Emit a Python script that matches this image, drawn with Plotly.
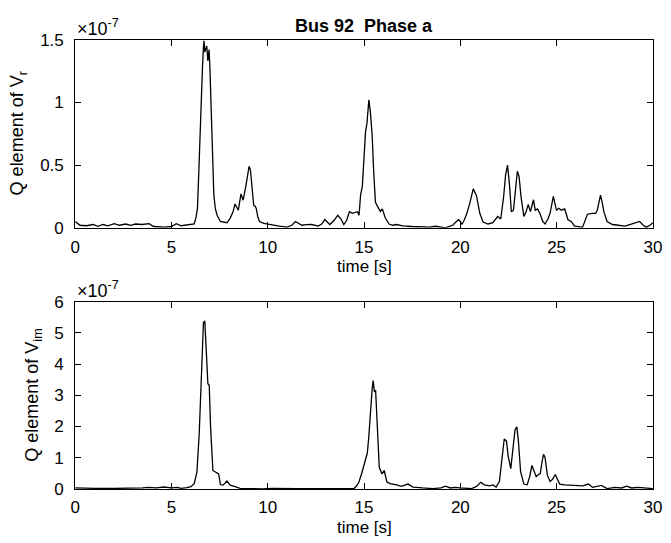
import plotly.graph_objects as go

# ---------------- data (values in units of 1e-7) ----------------
t_vr = [0, 0.08, 0.25, 0.59, 0.93, 1.18, 1.44, 1.69, 2.03, 2.29, 2.63, 2.88, 3.13, 3.47, 3.84, 4.07,
        4.66, 5.0, 5.25, 5.5, 5.76, 6.1, 6.18, 6.27, 6.35, 6.42, 6.49, 6.55, 6.61, 6.66, 6.69, 6.73,
        6.78, 6.83, 6.89, 6.95, 6.99, 7.03, 7.08, 7.12, 7.2, 7.28, 7.37, 7.54, 7.88, 8.05, 8.2, 8.3,
        8.38, 8.47, 8.61, 8.72, 8.86, 8.95, 9.03, 9.1, 9.15, 9.22, 9.27, 9.35, 9.4, 9.48, 9.57, 9.8,
        10.08, 10.6, 11.0, 11.25, 11.44, 11.6, 11.77, 12.0, 12.28, 12.62, 12.8, 12.96, 13.1, 13.22,
        13.45, 13.64, 13.8, 13.95, 14.1, 14.24, 14.4, 14.55, 14.66, 14.74, 14.82, 14.91, 15.0, 15.08,
        15.15, 15.25, 15.33, 15.42, 15.5, 15.59, 15.7, 15.85, 15.95, 16.1, 16.3, 16.5, 16.69, 17.0,
        17.5, 18.0, 18.38, 18.72, 19.0, 19.23, 19.4, 19.6, 19.8, 19.91, 20.0, 20.08, 20.2, 20.34,
        20.5, 20.67, 20.84, 20.92, 21.01, 21.18, 21.44, 21.69, 21.85, 21.94, 22.1, 22.25, 22.35,
        22.45, 22.55, 22.65, 22.76, 22.87, 22.96, 23.05, 23.15, 23.3, 23.42, 23.52, 23.64, 23.8,
        23.89, 24.01, 24.15, 24.28, 24.4, 24.55, 24.66, 24.83, 24.99, 25.11, 25.25, 25.42, 25.59,
        25.76, 25.93, 26.35, 26.5, 26.6, 26.86, 27.03, 27.11, 27.2, 27.28, 27.37, 27.45, 27.62,
        27.9, 28.2, 28.55, 28.8, 29.06, 29.31, 29.5, 29.65, 29.85, 30.0]
q_vr = [0.05, 0.04, 0.02, 0.016, 0.026, 0.012, 0.026, 0.016, 0.033, 0.02, 0.03, 0.02, 0.03, 0.026,
        0.033, 0.01, 0.005, 0.01, 0.033, 0.016, 0.02, 0.026, 0.03, 0.08, 0.154, 0.45, 0.82, 1.08,
        1.28, 1.44, 1.49, 1.40, 1.43, 1.45, 1.33, 1.42, 1.30, 1.08, 0.80, 0.56, 0.26, 0.15, 0.10,
        0.05, 0.04, 0.077, 0.13, 0.19, 0.17, 0.14, 0.27, 0.22, 0.33, 0.42, 0.49, 0.46, 0.385, 0.25,
        0.18, 0.17, 0.154, 0.09, 0.05, 0.035, 0.026, 0.013, 0.005, 0.02, 0.05, 0.035, 0.02, 0.025,
        0.026, 0.013, 0.03, 0.065, 0.04, 0.026, 0.06, 0.10, 0.07, 0.026, 0.06, 0.128, 0.115, 0.12,
        0.128, 0.10, 0.26, 0.33, 0.55, 0.77, 0.83, 1.02, 0.92, 0.74, 0.45, 0.205, 0.17, 0.13, 0.15,
        0.08, 0.03, 0.02, 0.026, 0.015, 0.01, 0.01, 0.005, 0.012, 0.005, 0.0, 0.01, 0.02, 0.05,
        0.064, 0.05, 0.026, 0.06, 0.115, 0.2, 0.31, 0.256, 0.19, 0.115, 0.046, 0.03, 0.04, 0.07,
        0.09, 0.07, 0.25, 0.42, 0.50, 0.35, 0.128, 0.14, 0.33, 0.45, 0.41, 0.25, 0.09, 0.13, 0.185,
        0.13, 0.223, 0.14, 0.15, 0.108, 0.05, 0.03, 0.07, 0.115, 0.25, 0.14, 0.155, 0.14, 0.15,
        0.064, 0.05, 0.013, 0.005, 0.06, 0.108, 0.115, 0.115, 0.14, 0.22, 0.26, 0.2, 0.13, 0.05,
        0.026, 0.02, 0.013, 0.025, 0.04, 0.05, 0.02, 0.005, 0.02, 0.04]

t_vim = [0, 0.3, 1.0, 2.0, 3.0, 3.5, 3.8, 4.2, 4.6, 5.0, 5.3, 5.5, 5.8, 6.01, 6.18, 6.32, 6.44, 6.56,
         6.66, 6.73, 6.79, 6.89, 6.96, 7.03, 7.15, 7.29, 7.45, 7.54, 7.68, 7.88, 8.05, 8.3, 8.56, 9.0,
         9.74, 10.25, 10.6, 10.93, 11.5, 12.5, 13.5, 14.2, 14.49, 14.62, 14.74, 14.88, 15.0, 15.17,
         15.25, 15.33, 15.42, 15.47, 15.54, 15.6, 15.67, 15.73, 15.79, 15.93, 16.05, 16.18, 16.35,
         16.69, 16.94, 17.28, 17.54, 18.05, 18.56, 19.0, 19.23, 19.48, 19.74, 19.99, 20.59, 20.84,
         21.06, 21.26, 21.52, 21.69, 21.86, 22.03, 22.15, 22.28, 22.4, 22.48, 22.62, 22.76, 22.84,
         22.93, 23.01, 23.13, 23.3, 23.47, 23.6, 23.72, 23.84, 23.94, 24.06, 24.15, 24.25, 24.32,
         24.4, 24.52, 24.66, 24.79, 24.93, 25.03, 25.16, 25.42, 25.84, 26.35, 26.65, 26.86, 27.33,
         27.62, 28.04, 28.38, 28.64, 28.89, 29.23, 29.57, 30.0]
q_vim = [0.03, 0.02, 0.02, 0.015, 0.02, 0.03, 0.05, 0.03, 0.06, 0.03, 0.05, 0.02, 0.04, 0.07, 0.17,
         0.54, 1.77, 3.83, 5.33, 5.38, 4.76, 3.37, 3.32, 1.98, 0.59, 0.54, 0.48, 0.14, 0.12, 0.25,
         0.12, 0.07, 0.02, 0.01, 0.0, 0.02, 0.01, 0.02, 0.005, 0.01, 0.005, 0.01, 0.02, 0.1, 0.23,
         0.5, 0.74, 1.15, 1.7, 2.49, 3.2, 3.47, 3.11, 3.16, 2.18, 1.3, 0.69, 0.48, 0.59, 0.23, 0.17,
         0.13, 0.08, 0.155, 0.06, 0.03, 0.01, 0.03, 0.09, 0.03, 0.05, 0.03, 0.01, 0.08, 0.21, 0.13,
         0.10, 0.13, 0.06, 0.24, 0.86, 1.60, 1.53, 1.06, 0.65, 1.37, 1.89, 1.99, 1.58, 0.55, 0.155,
         0.13, 0.39, 0.75, 0.57, 0.39, 0.46, 0.49, 0.9, 1.11, 1.01, 0.44, 0.24, 0.31, 0.46, 0.32,
         0.155, 0.13, 0.11, 0.10, 0.155, 0.05, 0.11, 0.01, 0.05, 0.03, 0.09, 0.03, 0.05, 0.03, 0.01]

x_ticks = [0, 5, 10, 15, 20, 25, 30]
y1_ticks = [0, 0.5, 1, 1.5]
y1_labels = ["0", "0.5", "1", "1.5"]
y2_ticks = [0, 1, 2, 3, 4, 5, 6]
title_text = "Bus 92  Phase a"
xlabel = "time [s]"
ylabel_top = "Q element of V<sub>r</sub>"
ylabel_bot = "Q element of V<sub>im</sub>"
exp_label = "×10<sup>-7</sup>"

# ---------------- layout in pixels ----------------
W, H = 671, 543
def px(x):
    return x / W
def py(y):
    return 1 - y / H

FONT = "Liberation Sans, Arial, Helvetica, sans-serif"
x_left, x_right = 71.7, 661.7
top_t, top_b = 31.7, 226.7
bot_t, bot_b = 303.3, 497.3

fig = go.Figure()
fig.add_trace(go.Scatter(x=t_vr, y=q_vr, mode="lines", line=dict(color="black", width=1.3),
                         xaxis="x", yaxis="y", showlegend=False, hoverinfo="skip"))
fig.add_trace(go.Scatter(x=t_vim, y=q_vim, mode="lines", line=dict(color="black", width=1.3),
                         xaxis="x2", yaxis="y2", showlegend=False, hoverinfo="skip"))

axis_common = dict(showline=True, linecolor="black", linewidth=1, mirror="ticks",
                   ticks="inside", ticklen=6, tickwidth=1, tickcolor="black",
                   showgrid=False, zeroline=False, ticklabeloverflow="allow",
                   tickfont=dict(family=FONT, size=17, color="black"))

fig.update_layout(
    width=W, height=H,
    margin=dict(l=0, r=0, t=0, b=0),
    paper_bgcolor="white", plot_bgcolor="white",
    font=dict(family=FONT, color="black"),
    xaxis=dict(domain=[px(x_left), px(x_right)], anchor="y", range=[0, 30],
               tickvals=x_ticks, ticklabelstandoff=4, **axis_common),
    yaxis=dict(domain=[py(top_b), py(top_t)], anchor="x", range=[0, 1.5],
               tickvals=y1_ticks, ticktext=y1_labels, ticklabelstandoff=7, **axis_common),
    xaxis2=dict(domain=[px(x_left), px(x_right)], anchor="y2", range=[0, 30],
                tickvals=x_ticks, ticklabelstandoff=3, **axis_common),
    yaxis2=dict(domain=[py(bot_b), py(bot_t)], anchor="x2", range=[0, 6],
                tickvals=y2_ticks, ticklabelstandoff=7, **axis_common),
)

ann = []
# title
ann.append(dict(text="<b>" + title_text + "</b>", x=px((x_left + x_right) / 2), y=py(18),
                xref="paper", yref="paper", showarrow=False, xanchor="center", yanchor="middle",
                font=dict(family=FONT, size=18, color="black")))
# x labels
for yc in (267, 537):
    ann.append(dict(text=xlabel, x=px((x_left + x_right) / 2), y=py(yc), xref="paper", yref="paper",
                    showarrow=False, xanchor="center", yanchor="middle",
                    font=dict(family=FONT, size=17, color="black")))
# y labels
ann.append(dict(text=ylabel_top, x=px(14), y=py((top_t + top_b) / 2), xref="paper", yref="paper",
                showarrow=False, textangle=-90, xanchor="center", yanchor="middle",
                font=dict(family=FONT, size=18, color="black")))
ann.append(dict(text=ylabel_bot, x=px(29), y=py((bot_t + bot_b) / 2), xref="paper", yref="paper",
                showarrow=False, textangle=-90, xanchor="center", yanchor="middle",
                font=dict(family=FONT, size=18, color="black")))
# exponent labels
for yc in (19, 291):
    ann.append(dict(text=exp_label, x=px(71), y=py(yc), xref="paper", yref="paper",
                    showarrow=False, xanchor="left", yanchor="middle",
                    font=dict(family=FONT, size=18, color="black")))
fig.update_layout(annotations=ann)

fig.write_html("out.html")
